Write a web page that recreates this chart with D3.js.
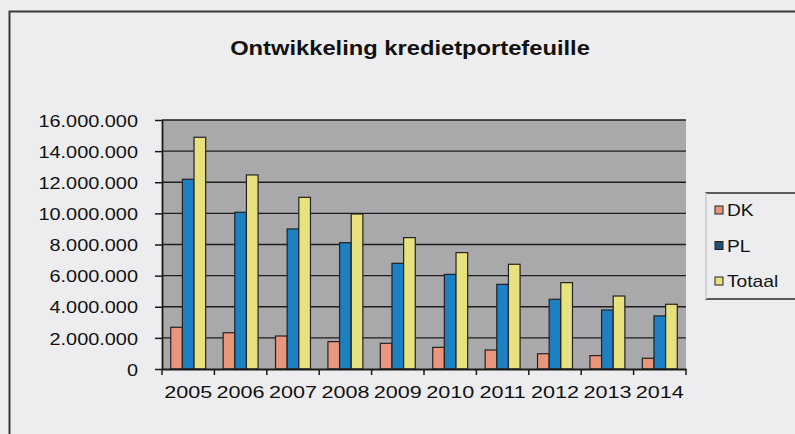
<!DOCTYPE html>
<html>
<head>
<meta charset="utf-8">
<script src="https://cdn.jsdelivr.net/npm/d3@7"></script>
<style>
  html, body { margin: 0; padding: 0; background: #ededef; }
  svg { display: block; }
  text { font-family: "Liberation Sans", Arial, sans-serif; fill: #111; }
</style>
</head>
<body>
<svg id="chart" width="795" height="434"></svg>
<script>
const years = ["2005","2006","2007","2008","2009","2010","2011","2012","2013","2014"];
const seriesNames = ["DK","PL","Totaal"];
const DK     = [2680000, 2330000, 2120000, 1760000, 1650000, 1390000, 1220000, 980000, 860000, 690000];
const PL     = [12190000, 10070000, 9000000, 8120000, 6790000, 6080000, 5440000, 4480000, 3790000, 3410000];
const Totaal = [14890000, 12470000, 11030000, 9960000, 8440000, 7480000, 6730000, 5550000, 4690000, 4160000];
const yTicks = [0, 2000000, 4000000, 6000000, 8000000, 10000000, 12000000, 14000000, 16000000];
const colors = ["#e9967c", "#1c80c2", "#e7e27e"];
const legendSwatch = ["#e9967c", "#1f4f73", "#e7e27e"];

const seriesData = [DK, PL, Totaal];
const svg = d3.select("#chart");

// outer frame
svg.append("rect").attr("x", 9.5).attr("y", 11.5).attr("width", 800).attr("height", 440)
  .attr("fill", "#ededef").attr("stroke", "#3a3a3a").attr("stroke-width", 2);

const L = 162, R = 686, T = 120, B = 369;
const x0 = d3.scaleBand().domain(years).range([L, R]).padding(0);
const bw = x0.bandwidth();
const x1 = d3.scaleBand().domain(seriesNames).range([bw / 6, bw * 5 / 6]).padding(0);
const y = d3.scaleLinear().domain([0, 16000000]).range([B, T]);

const nl = d3.formatLocale({decimal: ",", thousands: ".", grouping: [3], currency: ["€", ""]});
const fmt = nl.format(",d");

// plot area
svg.append("rect").attr("x", L).attr("y", T).attr("width", R - L).attr("height", B - T)
  .attr("fill", "#a9a9ab");

// gridlines
svg.append("g").selectAll("line").data(yTicks.filter(d => d > 0)).join("line")
  .attr("x1", L).attr("x2", R).attr("y1", d => y(d)).attr("y2", d => y(d))
  .attr("stroke", "#1e1e1e").attr("stroke-width", 1.4);

// bars
const groups = svg.append("g").selectAll("g").data(years).join("g")
  .attr("transform", d => `translate(${x0(d)},0)`);
groups.selectAll("rect").data((yr, i) => seriesNames.map((s, k) => ({s, k, v: seriesData[k][i]})))
  .join("rect")
  .attr("x", d => x1(d.s))
  .attr("width", x1.bandwidth())
  .attr("y", d => y(d.v))
  .attr("height", d => B - y(d.v))
  .attr("fill", d => colors[d.k])
  .attr("stroke", "#222").attr("stroke-width", 1.2);

// y axis
const yAxis = svg.append("g").attr("transform", `translate(${L},0)`)
  .call(d3.axisLeft(y).tickValues(yTicks).tickFormat(fmt).tickSize(7).tickSizeOuter(0));
yAxis.select(".domain").attr("stroke", "#1a1a1a").attr("stroke-width", 1.8);
yAxis.selectAll(".tick line").attr("stroke", "#1a1a1a").attr("stroke-width", 1.5);
yAxis.selectAll(".tick text")
  .attr("x", 0).attr("dy", "0.36em")
  .attr("font-size", 17)
  .attr("transform", "translate(-24,0) scale(1.17,1)");

// x axis
const xAxis = svg.append("g").attr("transform", `translate(0,${B})`)
  .call(d3.axisBottom(x0).tickSize(0).tickSizeOuter(0));
xAxis.select(".domain").attr("stroke", "#1a1a1a").attr("stroke-width", 1.8);
xAxis.selectAll(".tick text")
  .attr("y", 0).attr("dy", 0)
  .attr("font-size", 17)
  .attr("transform", "translate(0,29) scale(1.27,1)");
// category separator ticks
svg.append("g").selectAll("line").data(years.concat(["end"])).join("line")
  .attr("x1", (d, i) => L + i * bw).attr("x2", (d, i) => L + i * bw)
  .attr("y1", B).attr("y2", B + 6)
  .attr("stroke", "#1a1a1a").attr("stroke-width", 1.5);

// title
svg.append("text").attr("text-anchor", "middle")
  .attr("transform", "translate(410,55) scale(1.13,1)")
  .attr("font-size", 21).attr("font-weight", "bold")
  .text("Ontwikkeling kredietportefeuille");

// legend
const lg = svg.append("g");
lg.append("rect").attr("x", 706).attr("y", 193).attr("width", 100).attr("height", 106)
  .attr("fill", "#ededef").attr("stroke", "#2a2a2a").attr("stroke-width", 1.5);
lg.append("line").attr("x1", 706).attr("x2", 706).attr("y1", 193).attr("y2", 299)
  .attr("stroke", "#d0d0d2").attr("stroke-width", 2);
const items = lg.selectAll("g").data(seriesNames).join("g")
  .attr("transform", (d, i) => `translate(715,${216 + i * 35.5})`);
items.append("rect").attr("x", 0).attr("y", -10).attr("width", 8).attr("height", 8)
  .attr("fill", (d, i) => legendSwatch[i]).attr("stroke", "#222").attr("stroke-width", 1);
items.append("text").attr("font-size", 16)
  .attr("transform", "translate(12,0) scale(1.2,1)")
  .text(d => d);
</script>
</body>
</html>
